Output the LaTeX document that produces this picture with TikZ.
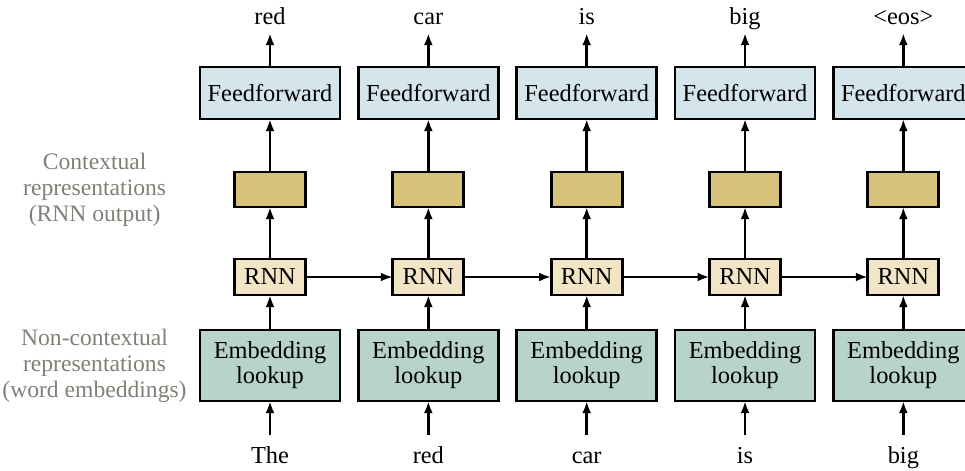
\documentclass[tikz,border=0pt]{standalone}
\usepackage{fontspec}
\setmainfont{Liberation Serif}
\usepackage{xcolor}
\usetikzlibrary{arrows.meta, positioning}

\definecolor{ffblue}{HTML}{D5E5EC}
\definecolor{ctxgold}{HTML}{D6C27A}
\definecolor{rnnbeige}{HTML}{F1E5C6}
\definecolor{embgreen}{HTML}{B8D3C7}
\definecolor{sidegray}{HTML}{808078}

\begin{document}
\begin{tikzpicture}[
    x=0.5pt, y=-0.5pt,
    node distance=17.5pt and 9.17pt,
    block/.style={rectangle, draw, line width=1.4pt, inner sep=0pt,
      outer sep=0pt, align=center,
      font=\fontsize{12.2}{12.6}\selectfont},
    ffbox/.style={block, fill=ffblue, minimum width=70pt,
      minimum height=26pt},
    ctxbox/.style={block, fill=ctxgold, minimum width=35.5pt,
      minimum height=17.5pt},
    rnnbox/.style={block, fill=rnnbeige, minimum width=35.5pt,
      minimum height=18pt},
    embbox/.style={block, fill=embgreen, minimum width=70pt,
      minimum height=35.5pt},
    word/.style={inner sep=0pt, text height=8.1pt, text depth=0pt,
      font=\fontsize{12.2}{12.6}\selectfont},
    inword/.style={word, outer sep=6pt},
    outword/.style={word, outer sep=4pt},
    side/.style={inner sep=0pt, align=center, text=sidegray,
      font=\fontsize{11.8}{13}\selectfont},
    arrow/.style={-{Latex[length=6pt,width=4.4pt]}, line width=1.2pt},
]
\useasboundingbox (0,0) rectangle (965,471);

% ── Embedding lookups (bottom row) ──
\node[embbox] (emb1) at (270,365.5) {Embedding\\lookup};
\node[embbox, right=of emb1] (emb2) {Embedding\\lookup};
\node[embbox, right=of emb2] (emb3) {Embedding\\lookup};
\node[embbox, right=of emb3] (emb4) {Embedding\\lookup};
\node[embbox, right=of emb4] (emb5) {Embedding\\lookup};

% ── RNN cells ──
\node[rnnbox, above=of emb1] (rnn1) {RNN};
\node[rnnbox, above=of emb2] (rnn2) {RNN};
\node[rnnbox, above=of emb3] (rnn3) {RNN};
\node[rnnbox, above=of emb4] (rnn4) {RNN};
\node[rnnbox, above=of emb5] (rnn5) {RNN};

% ── Contextual outputs ──
\node[ctxbox, above=26pt of rnn1] (ctx1) {};
\node[ctxbox, above=26pt of rnn2] (ctx2) {};
\node[ctxbox, above=26pt of rnn3] (ctx3) {};
\node[ctxbox, above=26pt of rnn4] (ctx4) {};
\node[ctxbox, above=26pt of rnn5] (ctx5) {};

% ── Feedforward heads ──
\node[ffbox, above=26.5pt of ctx1] (ff1) {Feedforward};
\node[ffbox, above=26.5pt of ctx2] (ff2) {Feedforward};
\node[ffbox, above=26.5pt of ctx3] (ff3) {Feedforward};
\node[ffbox, above=26.5pt of ctx4] (ff4) {Feedforward};
\node[ffbox, above=26.5pt of ctx5] (ff5) {Feedforward};

% ── Input and output words ──
\node[inword, below=17pt of emb1] (in1) {The};
\node[inword, below=17pt of emb2] (in2) {red};
\node[inword, below=17pt of emb3] (in3) {car};
\node[inword, below=17pt of emb4] (in4) {is};
\node[inword, below=17pt of emb5] (in5) {big};

\node[outword, above=17pt of ff1] (out1) {red};
\node[outword, above=17pt of ff2] (out2) {car};
\node[outword, above=17pt of ff3] (out3) {is};
\node[outword, above=17pt of ff4] (out4) {big};
\node[outword, above=17pt of ff5] (out5) {\textless eos\textgreater};

% ── Side labels ──
\node[side, left=34pt of ctx1] (ctxlabel)
  {Contextual\\representations\\(RNN output)};
\node[side, left=6.5pt of emb1] (emblabel)
  {Non-contextual\\representations\\(word embeddings)};

% ── Vertical arrows ──
\draw[arrow] (in1) -- (emb1);
\draw[arrow] (in2) -- (emb2);
\draw[arrow] (in3) -- (emb3);
\draw[arrow] (in4) -- (emb4);
\draw[arrow] (in5) -- (emb5);
\draw[arrow] (emb1) -- (rnn1);
\draw[arrow] (emb2) -- (rnn2);
\draw[arrow] (emb3) -- (rnn3);
\draw[arrow] (emb4) -- (rnn4);
\draw[arrow] (emb5) -- (rnn5);
\draw[arrow] (rnn1) -- (ctx1);
\draw[arrow] (rnn2) -- (ctx2);
\draw[arrow] (rnn3) -- (ctx3);
\draw[arrow] (rnn4) -- (ctx4);
\draw[arrow] (rnn5) -- (ctx5);
\draw[arrow] (ctx1) -- (ff1);
\draw[arrow] (ctx2) -- (ff2);
\draw[arrow] (ctx3) -- (ff3);
\draw[arrow] (ctx4) -- (ff4);
\draw[arrow] (ctx5) -- (ff5);
\draw[arrow] (ff1) -- (out1);
\draw[arrow] (ff2) -- (out2);
\draw[arrow] (ff3) -- (out3);
\draw[arrow] (ff4) -- (out4);
\draw[arrow] (ff5) -- (out5);

% ── Recurrent connections ──
\draw[arrow] (rnn1) -- (rnn2);
\draw[arrow] (rnn2) -- (rnn3);
\draw[arrow] (rnn3) -- (rnn4);
\draw[arrow] (rnn4) -- (rnn5);

\end{tikzpicture}
\end{document}
